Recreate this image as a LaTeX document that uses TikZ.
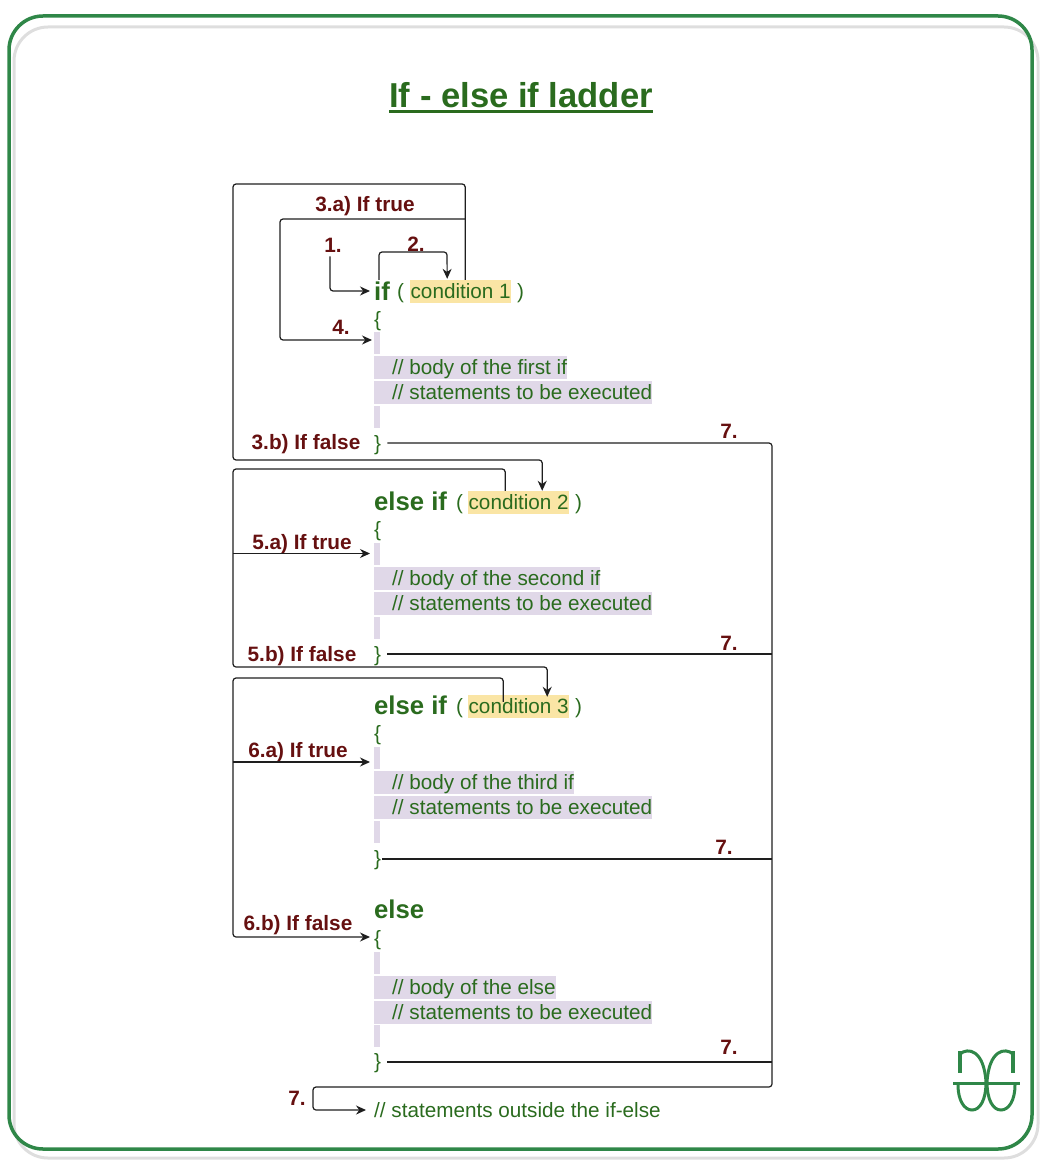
\documentclass[tikz,border=0pt]{standalone}
\usepackage{fontspec}
\setmainfont{Liberation Sans}
\usepackage{xcolor}
\definecolor{gfggreen}{RGB}{47, 135, 72}
\definecolor{gfgshadow}{RGB}{222, 222, 222}
\definecolor{codegreen}{RGB}{42, 107, 30}
\definecolor{stepred}{RGB}{102, 16, 16}
\definecolor{condyellow}{RGB}{250, 229, 165}
\definecolor{bodylilac}{RGB}{224, 216, 232}
\definecolor{flowblack}{RGB}{30, 30, 30}
\usetikzlibrary{arrows.meta}
\tikzset{
    code/.style={anchor=west, inner sep=0pt, text=codegreen, font=\fontsize{20.7}{24}\selectfont, text height=17pt, text depth=3pt},
    keyword/.style={code, font=\fontsize{25.7}{30}\selectfont\bfseries, text height=18pt, text depth=0pt},
    condbox/.style={code, fill=condyellow, minimum width=101pt, minimum height=23pt},
    bodyline/.style={code, fill=bodylilac, minimum height=23pt, execute at begin node=\hspace*{18pt}},
    spacer/.style={anchor=west, inner sep=0pt, fill=bodylilac, minimum width=6pt, minimum height=22pt},
    steplabel/.style={inner sep=0pt, text=stepred, font=\fontsize{20.8}{24}\selectfont\bfseries},
    flow/.style={draw=flowblack, line width=1.2pt, rounded corners=3pt},
    flowto/.style={flow, -{Stealth[length=10pt,width=9pt]}},
    logoline/.style={gfggreen, line width=3pt},
}
\begin{document}
\begin{tikzpicture}[x=1pt, y=-1pt]
    \useasboundingbox (0, 0) rectangle (1050, 1166);

    % Frame
    \draw[gfgshadow, line width=3pt, rounded corners=34pt] (14, 27) rectangle (1038, 1158);
    \draw[gfggreen, line width=3.5pt, rounded corners=34pt] (9, 16) rectangle (1032, 1149);
    \node[inner sep=0pt, text=codegreen, font=\fontsize{34.6}{42}\selectfont\bfseries, text height=24pt, text depth=0pt] (title) at (521, 95.5) {If - else if ladder};
    \draw[codegreen, line width=3pt] ([yshift=-4pt]title.south west) -- ([yshift=-4pt]title.south east);

    % First if
    \node[keyword] (kwif) at (374, 291) {if};
    \node[code] (openone) at (397, 291) {(};
    \node[condbox] (condone) at (410, 291.5) {condition 1};
    \node[code] (shutone) at (517, 291) {)};
    \node[code] (braceone) at (374, 319) {\{};
    \node[spacer] (barone) at (374, 342.5) {};
    \node[bodyline] (bodyone) at (374, 367.5) {// body of the first if};
    \node[bodyline] (stmtone) at (374, 392.5) {// statements to be executed};
    \node[spacer] (endone) at (374, 417) {};
    \node[code] (closeone) at (374, 443) {\}};

    % Second if
    \node[keyword] (kwtwo) at (374, 501) {else if};
    \node[code] (opentwo) at (456, 502) {(};
    \node[condbox] (condtwo) at (468, 502.5) {condition 2};
    \node[code] (shuttwo) at (575, 502) {)};
    \node[code] (bracetwo) at (374, 529) {\{};
    \node[spacer] (bartwo) at (374, 553.5) {};
    \node[bodyline] (bodytwo) at (374, 578.5) {// body of the second if};
    \node[bodyline] (stmttwo) at (374, 603.5) {// statements to be executed};
    \node[spacer] (endtwo) at (374, 628) {};
    \node[code] (closetwo) at (374, 654) {\}};

    % Third if
    \node[keyword] (kwthree) at (374, 705) {else if};
    \node[code] (openthree) at (456, 706) {(};
    \node[condbox] (condthree) at (468, 706.5) {condition 3};
    \node[code] (shutthree) at (575, 706) {)};
    \node[code] (bracethree) at (374, 733) {\{};
    \node[spacer] (barthree) at (374, 757.5) {};
    \node[bodyline] (bodythree) at (374, 782.5) {// body of the third if};
    \node[bodyline] (stmtthree) at (374, 807.5) {// statements to be executed};
    \node[spacer] (endthree) at (374, 832) {};
    \node[code] (closethree) at (374, 858) {\}};

    % Else
    \node[keyword] (kwelse) at (374, 909) {else};
    \node[code] (braceelse) at (374, 938) {\{};
    \node[spacer] (barelse) at (374, 962.5) {};
    \node[bodyline] (bodyelse) at (374, 987.5) {// body of the else};
    \node[bodyline] (stmtelse) at (374, 1012.5) {// statements to be executed};
    \node[spacer] (endelse) at (374, 1036) {};
    \node[code] (closeelse) at (374, 1061) {\}};
    \node[code] (outside) at (374, 1110) {// statements outside the if-else};

    % Step labels
    \node[steplabel] (stepone) at (333, 245) {1.};
    \node[steplabel] (steptwo) at (416, 244) {2.};
    \node[steplabel] (stepthreea) at (365, 206) {3.a) If true};
    \node[steplabel] (stepthreeb) at (306, 444) {3.b) If false};
    \node[steplabel] (stepfour) at (341, 327) {4.};
    \node[steplabel] (stepfivea) at (302, 544) {5.a) If true};
    \node[steplabel] (stepfiveb) at (302, 656) {5.b) If false};
    \node[steplabel] (stepsixa) at (298, 752) {6.a) If true};
    \node[steplabel] (stepsixb) at (298, 925) {6.b) If false};
    \node[steplabel] (sevenone) at (729, 431) {7.};
    \node[steplabel] (seventwo) at (729, 643) {7.};
    \node[steplabel] (seventhree) at (724, 847) {7.};
    \node[steplabel] (sevenfour) at (729, 1047) {7.};
    \node[steplabel] (sevenfive) at (297, 1098) {7.};

    % Bends of the connectors
    \coordinate (topone) at (233, 184);
    \coordinate (lowone) at (233, 460);
    \coordinate (bendtwo) at (447, 252);
    \coordinate (splitone) at (465, 219);
    \coordinate (leftfour) at (280, 219);
    \coordinate (toptwo) at (233, 469);
    \coordinate (lowtwo) at (233, 667);
    \coordinate (topthree) at (233, 678);
    \coordinate (lowthree) at (233, 937);
    \coordinate (exittop) at (772, 443);
    \coordinate (exitlow) at (772, 1087);
    \coordinate (exitleft) at (313, 1087);

    % Steps 1 to 4
    \draw[flowto] ([xshift=-3pt, yshift=-4pt]stepone.south) |- ([xshift=-4pt]kwif.west);
    \draw[flowto] ([xshift=-3pt, yshift=2pt]kwif.north) |- (bendtwo) -- ([xshift=-13.5pt, yshift=1pt]condone.north);
    \draw[flowto] ([xshift=4.5pt]condone.north) |- (topone) -- (lowone) -| ([xshift=23.5pt]condtwo.north);
    \draw[flowto] (splitone) -- (leftfour) |- ([xshift=-2pt, yshift=2.5pt]barone.west);

    % Steps 5 and 6
    \draw[flowto] ([xshift=-13.5pt]condtwo.north) |- (toptwo) -- (lowtwo) -| ([xshift=28.5pt, yshift=-2pt]condthree.north);
    \draw[flowto] (toptwo |- bartwo.west) -- ([xshift=-4pt]bartwo.west);
    \draw[flowto] ([xshift=-15.5pt, yshift=-7pt]condthree.north) |- (topthree) -- (lowthree) -- ([xshift=-4pt]lowthree -| outside.west);
    \draw[flowto] ([yshift=-4.5pt]topthree |- barthree.west) -- ([xshift=-4pt, yshift=-4.5pt]barthree.west);

    % Step 7
    \draw[flowto] ([xshift=6pt]closeone.east) -- (exittop) -- (exitlow) -- (exitleft) |- ([xshift=-8pt]outside.west);
    \draw[flow] ([xshift=6pt]closetwo.east) -- (exittop |- closetwo.east);
    \draw[flow] ([xshift=1pt, yshift=-1pt]closethree.east) -- ([yshift=-1pt]exittop |- closethree.east);
    \draw[flow] ([xshift=6pt, yshift=-1pt]closeelse.east) -- ([yshift=-1pt]exittop |- closeelse.east);

    % Logo
    \draw[logoline] (953, 1083.5) -- (1020, 1083.5);
    \draw[logoline, line width=4pt] (960, 1051) -- (960, 1073);
    \draw[logoline, line width=4pt] (1013, 1051) -- (1013, 1073);
    \draw[logoline] (960, 1054) .. controls (968, 1047) and (984, 1050) .. (986, 1082) .. controls (986, 1100) and (980, 1110) .. (972, 1110) .. controls (964, 1110) and (958, 1100) .. (958, 1085);
    \draw[logoline] (1013, 1054) .. controls (1005, 1047) and (989, 1050) .. (987, 1082) .. controls (987, 1100) and (993, 1110) .. (1001, 1110) .. controls (1009, 1110) and (1015, 1100) .. (1015, 1085);
\end{tikzpicture}
\end{document}
